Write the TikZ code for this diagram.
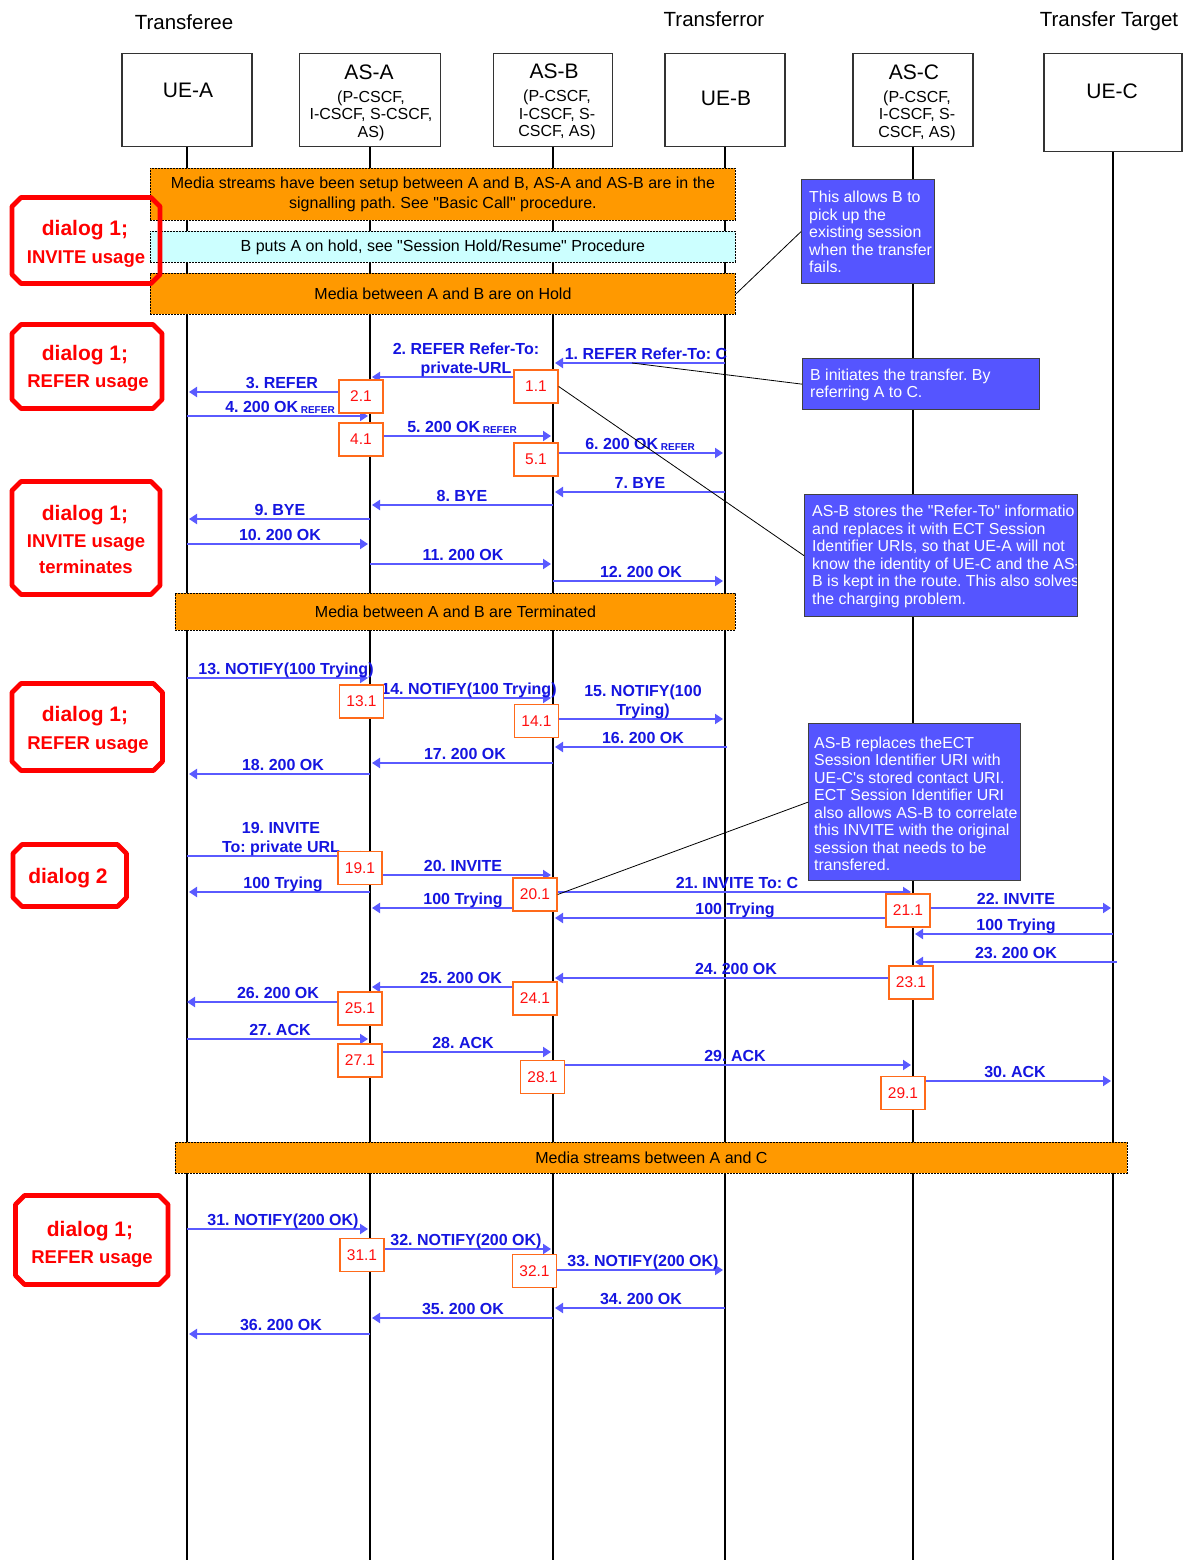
\documentclass[tikz,border=0pt]{standalone}
\usepackage{fontspec}
\setmainfont{Liberation Sans}
\newfontfamily\arial{Liberation Sans}
\usetikzlibrary{arrows.meta}
\definecolor{orangebar}{HTML}{FF9900}
\definecolor{cyanbar}{HTML}{CCFFFF}
\definecolor{noteblue}{HTML}{5555FF}
\definecolor{arrowblue}{HTML}{5A5AFF}
\definecolor{labelblue}{HTML}{1515E0}
\definecolor{numorange}{HTML}{FF6A1A}
\definecolor{numred}{HTML}{FF1010}
\definecolor{dlgred}{HTML}{FF0000}
\newcommand\fsz[2]{\fontsize{#1}{#2}\selectfont}
\newcommand\refsub{\,\raisebox{-1.5pt}{\fsz{10}{10}REFER}}
\newcommand\msg[6]{%
  \coordinate (#1s) at (#3,#2);
  \coordinate (#1e) at (#4,#2);
  \draw[msgline] (#1s) -- (#1e);
  \node[msglbl] (#1l) at (#5,#2-4) {#6};}
\newcommand\msgtwo[7]{%
  \coordinate (#1s) at (#3,#2);
  \coordinate (#1e) at (#4,#2);
  \draw[msgline] (#1s) -- (#1e);
  \node[msglbl] (#1la) at (#5,#2-22.5) {#6};
  \node[msglbl] (#1lb) at (#5,#2-4) {#7};}
\newcommand\dlgbox[4]{%
  \draw[dlgline] (#1+9,#2) -- (#3-9,#2) -- (#3,#2+9) -- (#3,#4-9) -- (#3-9,#4)
    -- (#1+9,#4) -- (#1,#4-9) -- (#1,#2+9) -- cycle;}
\begin{document}
\frenchspacing
\begin{tikzpicture}[x=1pt,y=-1pt,
  hdrbox/.style={draw=black!80, line width=1.3pt, fill=white, inner sep=0pt, anchor=north},
  hdrname/.style={font={\arial\fsz{21}{25}}, inner sep=0pt, anchor=base},
  hdrsub/.style={font={\arial\fsz{16}{17.5}}, align=center, inner sep=0pt},
  role/.style={font={\arial\fsz{20.5}{24}}, inner sep=0pt, anchor=base},
  life/.style={draw=black, line width=1.1pt},
  mediabar/.style={draw=black, line width=0.9pt, dash pattern=on 2pt off 1pt, fill=orangebar,
    inner sep=0pt, anchor=north west, font={\arial\fsz{16}{19.5}}, align=center},
  holdbar/.style={mediabar, fill=cyanbar},
  msgline/.style={draw=arrowblue, line width=2pt, -{Triangle[length=8pt,width=10pt]}},
  msglbl/.style={text=labelblue, font={\arial\bfseries\fsz{16}{18}}, anchor=base, inner sep=0pt},
  numbox/.style={draw=numorange, line width=1.4pt, fill=white, text=numred, font={\arial\fsz{15.5}{18}},
    minimum width=44pt, minimum height=33pt, inner sep=0pt},
  notebox/.style={draw=black!75, line width=1.3pt, fill=noteblue, inner sep=0pt, anchor=north west},
  notetext/.style={text=white, font={\arial\fsz{15.9}{17.5}}, align=left, anchor=west, inner sep=0pt},
  pointer/.style={draw=black, line width=0.8pt},
  dlgline/.style={draw=dlgred, line width=4.8pt, line join=round},
  dlgbig/.style={text=dlgred, font={\arial\bfseries\fsz{21}{25}}, inner sep=0pt, anchor=base},
  dlgsmall/.style={text=dlgred, font={\arial\bfseries\fsz{18.5}{22}}, inner sep=0pt, anchor=base},
]
\useasboundingbox (0,0) rectangle (1192,1560);
\fill[white] (0,0) rectangle (1192,1560);

% roles
\node[role] (rA) at (184,29.5) {Transferee};
\node[role] (rB) at (714,26.5) {Transferror};
\node[role] (rC) at (1109,26.5) {Transfer Target};

% header boxes
\node[hdrbox, minimum width=130pt, minimum height=93pt] (uea) at (187,53) {};
\node[hdrbox, minimum width=141pt, minimum height=93pt] (asa) at (370,53) {};
\node[hdrbox, minimum width=119pt, minimum height=93pt] (asb) at (553,53) {};
\node[hdrbox, minimum width=120pt, minimum height=93pt] (ueb) at (725,53) {};
\node[hdrbox, minimum width=120pt, minimum height=93pt] (asc) at (913,53) {};
\node[hdrbox, minimum width=138pt, minimum height=98pt] (uec) at (1113,53) {};

\node[hdrname] (ueaT) at (188,97.5) {UE-A};
\node[hdrname] (asaT) at (369,79.5) {AS-A};
\node[hdrsub] (asaS) at (371,115.5) {(P-CSCF,\\I-CSCF, S-CSCF,\\AS)};
\node[hdrname] (asbT) at (554,78.5) {AS-B};
\node[hdrsub] (asbS) at (557,115) {(P-CSCF,\\I-CSCF, S-\\CSCF, AS)};
\node[hdrname] (uebT) at (726,105.5) {UE-B};
\node[hdrname] (ascT) at (914,79.5) {AS-C};
\node[hdrsub] (ascS) at (917,115.5) {(P-CSCF,\\I-CSCF, S-\\CSCF, AS)};
\node[hdrname] (uecT) at (1112,98.5) {UE-C};

% lifelines
\coordinate (ueaEnd) at (187,1560);
\coordinate (asaEnd) at (370,1560);
\coordinate (asbEnd) at (553,1560);
\coordinate (uebEnd) at (725,1560);
\coordinate (ascEnd) at (913,1560);
\coordinate (uecEnd) at (1113,1560);
\draw[life] (uea.south) -- (ueaEnd);
\draw[life] (asa.south) -- (asaEnd);
\draw[life] (asb.south) -- (asbEnd);
\draw[life] (ueb.south) -- (uebEnd);
\draw[life] (asc.south) -- (ascEnd);
\draw[life] (uec.south) -- (uecEnd);

% bars
\node[mediabar, minimum width=585pt, minimum height=52pt] (bar1) at (150,168)
  {Media streams have been setup between A and B, AS-A and AS-B are in the\\signalling path. See "Basic Call" procedure.};
\node[holdbar, minimum width=585pt, minimum height=31pt] (bar2) at (150,231)
  {B puts A on hold, see "Session Hold/Resume" Procedure};
\node[mediabar, minimum width=585pt, minimum height=41pt] (bar3) at (150,273)
  {Media between A and B are on Hold};
\node[mediabar, minimum width=560pt, minimum height=37pt] (bar4) at (175,593)
  {Media between A and B are Terminated};
\node[mediabar, minimum width=952pt, minimum height=31pt] (bar5) at (175,1142)
  {Media streams between A and C};

% messages
\msg{m1}{363}{725}{555}{646}{1. REFER Refer-To: C}
\msgtwo{m2}{377}{514}{372}{466}{2. REFER Refer-To:}{private-URL}
\msg{m3}{392}{339}{189}{282}{3. REFER}
\msg{m4}{416}{187}{368}{280}{4. 200 OK\refsub}
\msg{m5}{436}{383}{551}{462}{5. 200 OK\refsub}
\msg{m6}{453}{558}{723}{640}{6. 200 OK\refsub}
\msg{m7}{492}{725}{555}{640}{7. BYE}
\msg{m8}{505}{553}{372}{462}{8. BYE}
\msg{m9}{519}{370}{189}{280}{9. BYE}
\msg{m10}{544}{187}{368}{280}{10. 200 OK}
\msg{m11}{564}{370}{551}{463}{11. 200 OK}
\msg{m12}{581}{553}{723}{641}{12. 200 OK}
\msg{m13}{678}{187}{368}{286}{13. NOTIFY(100 Trying)}
\msg{m14}{698}{384}{551}{469}{14. NOTIFY(100 Trying)}
\msgtwo{m15}{719}{558}{723}{643}{15. NOTIFY(100}{Trying)}
\msg{m16}{747}{727}{555}{643}{16. 200 OK}
\msg{m17}{763}{553}{372}{465}{17. 200 OK}
\msg{m18}{774}{370}{189}{283}{18. 200 OK}
\msgtwo{m19}{856}{187}{368}{281}{19. INVITE}{To: private URL}
\msg{m20}{875}{382}{551}{463}{20. INVITE}
\msg{t1}{892}{370}{189}{283}{100 Trying}
\msg{t2}{908}{513}{372}{463}{100 Trying}
\msg{m21}{892}{557}{911}{737}{21. INVITE To: C}
\msg{t3}{918}{886}{555}{735}{100 Trying}
\msg{m22}{908}{930}{1111}{1016}{22. INVITE}
\msg{t4}{934}{1113}{915}{1016}{100 Trying}
\msg{m23}{962}{1117}{915}{1016}{23. 200 OK}
\msg{m24}{978}{889}{555}{736}{24. 200 OK}
\msg{m25}{987}{513}{372}{461}{25. 200 OK}
\msg{m26}{1002}{338}{187}{278}{26. 200 OK}
\msg{m27}{1039}{187}{368}{280}{27. ACK}
\msg{m28}{1052}{382}{551}{463}{28. ACK}
\msg{m29}{1065}{565}{911}{735}{29. ACK}
\msg{m30}{1081}{925}{1111}{1015}{30. ACK}
\msg{m31}{1229}{187}{368}{283}{31. NOTIFY(200 OK)}
\msg{m32}{1249}{385}{551}{466}{32. NOTIFY(200 OK)}
\msg{m33}{1270}{557}{723}{643}{33. NOTIFY(200 OK)}
\msg{m34}{1308}{725}{555}{641}{34. 200 OK}
\msg{m35}{1318}{553}{372}{463}{35. 200 OK}
\msg{m36}{1334}{370}{189}{281}{36. 200 OK}

% numbered boxes
\node[numbox] (b11) at (536,386.5) {1.1};
\node[numbox] (b21) at (361,396.5) {2.1};
\node[numbox] (b41) at (361,439.5) {4.1};
\node[numbox] (b51) at (536,459.5) {5.1};
\node[numbox] (b131) at (361.5,701.5) {13.1};
\node[numbox] (b141) at (536.5,721) {14.1};
\node[numbox] (b191) at (360,868) {19.1};
\node[numbox] (b201) at (535,894.5) {20.1};
\node[numbox] (b211) at (908,910.5) {21.1};
\node[numbox] (b231) at (911,982.5) {23.1};
\node[numbox] (b241) at (535,998.5) {24.1};
\node[numbox] (b251) at (360,1008.5) {25.1};
\node[numbox] (b271) at (360,1060.5) {27.1};
\node[numbox] (b281) at (542.5,1077) {28.1};
\node[numbox] (b291) at (903,1093) {29.1};
\node[numbox] (b311) at (362,1255) {31.1};
\node[numbox] (b321) at (534.5,1271) {32.1};

% notes
\node[notebox, minimum width=133pt, minimum height=104pt] (n1) at (801,179) {};
\node[notetext] (n1t) at (809,232) {This allows B to\\pick up the\\existing session\\when the transfer\\fails.};
\node[notebox, minimum width=237pt, minimum height=51pt] (n2) at (802,358) {};
\node[notetext] (n2t) at (810,385) {B initiates the transfer. By\\referring A to C.};
\node[notebox, minimum width=273pt, minimum height=122pt] (n3) at (804,494) {};
\begin{scope}
\clip (805,495) rectangle (1076.5,615);
\node[notetext] (n3t) at (812,556.5) {AS-B stores the "Refer-To" informatio\\and replaces it with ECT Session\\Identifier URIs, so that UE-A will not\\know the identity of UE-C and the AS-\\B is kept in the route. This also solves\\the charging problem.};
\end{scope}
\node[notebox, minimum width=212pt, minimum height=157pt] (n4) at (808,723) {};
\node[notetext] (n4t) at (814,804) {AS-B replaces theECT\\Session Identifier URI with\\UE-C's stored contact URI.\\ECT Session Identifier URI\\also allows AS-B to correlate\\this INVITE with the original\\session that needs to be\\transfered.};

% pointers
\coordinate (p1) at (632,363);
\draw[pointer] (bar3.east) -- (n1.west);
\draw[pointer] (p1) -- (n2.west);
\draw[pointer] (b11.east) -- (n3.west);
\draw[pointer] (b201.east) -- (n4.west);

% dialog boxes
\dlgbox{12}{197.5}{160}{283.5}
\node[dlgbig] (d1a) at (85,235.5) {dialog 1;};
\node[dlgsmall] (d1b) at (86,263) {INVITE usage};
\dlgbox{12}{324.5}{162}{408.5}
\node[dlgbig] (d2a) at (85,360) {dialog 1;};
\node[dlgsmall] (d2b) at (88,387.5) {REFER usage};
\dlgbox{12}{481.5}{160}{594.5}
\node[dlgbig] (d3a) at (85,520) {dialog 1;};
\node[dlgsmall] (d3b) at (86,547.5) {INVITE usage};
\node[dlgsmall] (d3c) at (86,573) {terminates};
\dlgbox{12}{683.5}{162.5}{770.5}
\node[dlgbig] (d4a) at (85,721) {dialog 1;};
\node[dlgsmall] (d4b) at (88,749) {REFER usage};
\dlgbox{13}{844.5}{126.5}{906.5}
\node[dlgbig] (d5a) at (68,883) {dialog 2};
\dlgbox{15.5}{1195.5}{168}{1284.5}
\node[dlgbig] (d6a) at (90,1236) {dialog 1;};
\node[dlgsmall] (d6b) at (92,1263) {REFER usage};
\end{tikzpicture}
\end{document}
